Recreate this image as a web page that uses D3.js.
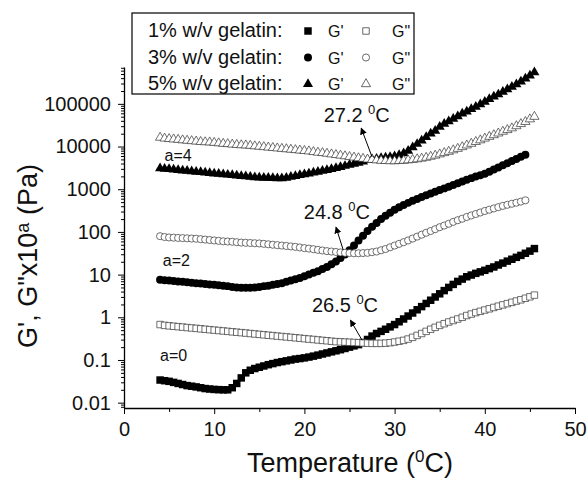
<!DOCTYPE html>
<html>
<head>
<meta charset="utf-8">
<script src="https://cdn.jsdelivr.net/npm/d3@7"></script>
<style>
body { margin: 0; background: #fff; }
svg { font-family: "Liberation Sans", Arial, sans-serif; }
</style>
</head>
<body>
<svg id="chart" width="588" height="480"></svg>
<script>
//
// Storage (G') and loss (G") moduli of gelatin gels vs temperature, shifted by 10^a.
//

// Temperature of each measurement, degC.
var temperature = [
    4, 4.5, 5, 5.5, 6, 6.5, 7, 7.5, 8, 8.5,
    9, 9.5, 10, 10.5, 11, 11.5, 12, 12.5, 13, 13.5,
    14, 14.5, 15, 15.5, 16, 16.5, 17, 17.5, 18, 18.5,
    19, 19.5, 20, 20.5, 21, 21.5, 22, 22.5, 23, 23.5,
    24, 24.5, 25, 25.5, 26, 26.5, 27, 27.5, 28, 28.5,
    29, 29.5, 30, 30.5, 31, 31.5, 32, 32.5, 33, 33.5,
    34, 34.5, 35, 35.5, 36, 36.5, 37, 37.5, 38, 38.5,
    39, 39.5, 40, 40.5, 41, 41.5, 42, 42.5, 43, 43.5,
    44, 44.5, 45, 45.5
];

// Values as plotted (G x 10^a, Pa). 1% gelatin, a=0.
var gel1Storage = [
    0.0339, 0.0327, 0.0316, 0.0299, 0.0282, 0.0266, 0.0251, 0.0243, 0.0234, 0.0224,
    0.0214, 0.0209, 0.0204, 0.0202, 0.0200, 0.0200, 0.0224, 0.0282, 0.038, 0.050,
    0.0575, 0.063, 0.0676, 0.0724, 0.0776, 0.0822, 0.0871, 0.0912, 0.0955, 0.100,
    0.105, 0.108, 0.112, 0.117, 0.123, 0.130, 0.138, 0.146, 0.155, 0.164,
    0.174, 0.186, 0.200, 0.214, 0.229, 0.257, 0.302, 0.363, 0.417, 0.468,
    0.525, 0.596, 0.676, 0.785, 0.912, 1.07, 1.26, 1.50, 1.78, 2.11,
    2.51, 2.99, 3.55, 4.22, 5.01, 5.89, 6.92, 7.85, 8.91, 9.77,
    10.7, 11.6, 12.6, 13.8, 15.1, 16.8, 18.6, 20.7, 22.9, 25.4,
    28.2, 31.6, 35.5, 40.7
];
var gel1Loss = [
    0.676, 0.646, 0.631, 0.617, 0.603, 0.589, 0.575, 0.562, 0.550, 0.537,
    0.525, 0.513, 0.501, 0.490, 0.479, 0.468, 0.457, 0.447, 0.437, 0.427,
    0.417, 0.407, 0.398, 0.389, 0.380, 0.372, 0.363, 0.355, 0.347, 0.339,
    0.331, 0.324, 0.316, 0.309, 0.302, 0.295, 0.288, 0.282, 0.275, 0.269,
    0.266, 0.263, 0.260, 0.257, 0.254, 0.251, 0.248, 0.245, 0.245, 0.245,
    0.248, 0.254, 0.263, 0.275, 0.288, 0.309, 0.339, 0.376, 0.417, 0.468,
    0.525, 0.582, 0.646, 0.708, 0.776, 0.841, 0.912, 1.00, 1.10, 1.19,
    1.29, 1.38, 1.48, 1.58, 1.70, 1.82, 1.95, 2.09, 2.24, 2.40,
    2.57, 2.79, 3.02, 3.31
];

// 3% gelatin, a=2 (ends at 44.5 degC).
var gel3Storage = [
    7.59, 7.41, 7.24, 7.08, 6.92, 6.76, 6.61, 6.46, 6.31, 6.17,
    6.03, 5.89, 5.75, 5.62, 5.50, 5.37, 5.13, 5.01, 4.90, 4.90,
    4.90, 5.01, 5.13, 5.37, 5.50, 5.75, 6.03, 6.31, 6.76, 7.24,
    7.76, 8.32, 9.12, 10.0, 11.0, 12.0, 13.5, 15.1, 17.4, 20.4,
    24.5, 29.5, 37.2, 47.9, 63.1, 81.3, 105, 132, 162, 200,
    240, 282, 331, 380, 427, 479, 537, 589, 661, 724,
    794, 871, 955, 1047, 1148, 1259, 1380, 1514, 1660, 1820,
    1995, 2138, 2291, 2570, 2884, 3236, 3631, 4074, 4571, 5129,
    5754, 6457
];
var gel3Loss = [
    79.4, 75.9, 74.1, 73.3, 72.4, 71.6, 70.8, 70.0, 69.2, 67.6,
    66.1, 64.6, 63.1, 61.7, 60.3, 59.6, 58.9, 57.5, 56.2, 55.6,
    55.0, 54.3, 53.7, 52.5, 51.3, 50.1, 49.0, 47.9, 46.8, 45.7,
    44.7, 43.2, 41.7, 40.7, 39.4, 38.0, 36.7, 35.5, 34.7, 33.9,
    33.1, 32.4, 32.0, 31.6, 31.6, 32.0, 32.4, 33.5, 34.7, 37.2,
    39.8, 43.7, 47.9, 52.5, 57.5, 63.1, 70.0, 77.6, 86.1, 95.5,
    105, 116, 129, 141, 155, 172, 188, 204, 224, 243,
    263, 285, 309, 331, 355, 380, 407, 432, 457, 484,
    513, 550
];

// 5% gelatin, a=4.
var gel5Storage = [
    3090, 3020, 2950, 2880, 2820, 2750, 2690, 2630, 2570, 2510,
    2450, 2400, 2340, 2290, 2240, 2190, 2140, 2090, 2040, 2000,
    1950, 1910, 1880, 1860, 1840, 1820, 1800, 1800, 1860, 1950,
    2040, 2140, 2240, 2340, 2450, 2570, 2690, 2820, 2950, 3130,
    3310, 3510, 3720, 3940, 4170, 4470, 4790, 5010, 5190, 5370,
    5500, 5690, 5890, 6310, 6920, 7940, 9550, 11500, 13800, 16600,
    20000, 23400, 28800, 33900, 38900, 44700, 51300, 58900, 66100, 75900,
    85100, 97700, 112000, 129000, 148000, 166000, 191000, 219000, 251000, 288000,
    331000, 389000, 457000, 550000
];
var gel5Loss = [
    16200, 15500, 15100, 14800, 14500, 14100, 13800, 13500, 13200, 12900,
    12700, 12600, 12300, 12000, 11700, 11500, 11200, 11000, 10800, 10700,
    10500, 10200, 10000, 9770, 9550, 9330, 9120, 8910, 8710, 8510,
    8320, 8130, 7940, 7760, 7500, 7240, 7080, 6840, 6610, 6380,
    6170, 5960, 5750, 5560, 5370, 5190, 5010, 4900, 4790, 4680,
    4620, 4570, 4570, 4620, 4680, 4790, 4900, 5070, 5250, 5500,
    5820, 6170, 6610, 7080, 7590, 8220, 8910, 9770, 10700, 11700,
    12900, 14100, 15500, 17000, 18600, 20400, 22400, 24500, 26900, 30200,
    33900, 38000, 43700, 50100
];

var xTicks = [0, 10, 20, 30, 40, 50];
var yTicks = [0.01, 0.1, 1, 10, 100, 1000, 10000, 100000];
var yTickLabels = ["0.01", "0.1", "1", "10", "100", "1000", "10000", "100000"];
var legendLabels = ["1% w/v gelatin:", "3% w/v gelatin:", "5% w/v gelatin:"];

// Gel point annotations: label, text anchor, arrow tail and head (data units).
var gelPoints = [
    { label: "27.2", tx: 25.8, ty: 55000, x1: 27.5, y1: 5700, x2: 26.3, y2: 27000 },
    { label: "24.8", tx: 23.6, ty: 290, x1: 24.3, y1: 38, x2: 23.5, y2: 130 },
    { label: "26.5", tx: 24.5, ty: 1.95, x1: 26.4, y1: 0.29, x2: 25.1, y2: 0.86 }
];
var shiftLabels = [
    { text: "a=4", t: 4.5, v: 6300 },
    { text: "a=2", t: 4.3, v: 22 },
    { text: "a=0", t: 4.0, v: 0.13 }
];

window.onload = function () {

    var svg = d3.select("#chart");

    var x = d3.scaleLinear().domain([0, 50]).range([124, 575]);
    var y = d3.scaleLog().domain([0.0075, 730000]).range([408, 67]);

    var symbolSize = { // Filled symbols drawn a little heavier than open ones.
        square: [56, 42], circle: [50, 40], triangle: [44, 37]
    };
    var symbolType = { square: d3.symbolSquare, circle: d3.symbolCircle, triangle: d3.symbolTriangle };

    function symbolPath (shape, filled) {
        return d3.symbol().type(symbolType[shape]).size(symbolSize[shape][filled ? 0 : 1])();
    };

    var series = [
        { values: gel1Storage, shape: "square", filled: true },
        { values: gel1Loss, shape: "square", filled: false },
        { values: gel3Storage, shape: "circle", filled: true },
        { values: gel3Loss, shape: "circle", filled: false },
        { values: gel5Storage, shape: "triangle", filled: true },
        { values: gel5Loss, shape: "triangle", filled: false }
    ];

    // Axes
    var minorY = [];
    for (var d = -3; d <= 5; d++) {
        for (var k = 2; k <= 9; k++) {
            var v = k * Math.pow(10, d);
            if (v >= y.domain()[0] && v <= y.domain()[1]) minorY.push(v);
        }
    }

    svg.append("g")
        .attr("transform", "translate(124,0)")
        .call(d3.axisLeft(y).tickValues(minorY).tickSize(3).tickFormat(""))
        .call(g => g.select(".domain").remove());

    svg.append("g")
        .attr("transform", "translate(124,0)")
        .call(d3.axisLeft(y).tickValues(yTicks).tickSize(6).tickSizeOuter(0).tickPadding(7)
            .tickFormat((dv, i) => yTickLabels[i]));

    svg.append("g")
        .attr("transform", "translate(0,408)")
        .call(d3.axisBottom(x).tickValues([5, 15, 25, 35, 45]).tickSize(4).tickFormat(""))
        .call(g => g.select(".domain").remove());

    svg.append("g")
        .attr("transform", "translate(0,408)")
        .call(d3.axisBottom(x).tickValues(xTicks).tickSize(6).tickSizeOuter(0).tickPadding(8));

    svg.selectAll(".domain").attr("stroke-width", 1.3);
    svg.selectAll(".tick line").attr("stroke-width", 1);
    svg.selectAll(".tick text").attr("font-size", 20).attr("font-family", "Liberation Sans, Arial, sans-serif").attr("fill", "#111");

    // Axis titles
    var xTitle = svg.append("text")
        .attr("x", 350).attr("y", 472)
        .attr("text-anchor", "middle")
        .attr("font-size", 27).attr("fill", "#111");
    xTitle.append("tspan").text("Temperature (");
    xTitle.append("tspan").attr("font-size", 17).attr("dy", -10).text("0");
    xTitle.append("tspan").attr("dy", 10).text("C)");

    var yTitle = svg.append("text")
        .attr("transform", "translate(37,256) rotate(-90)")
        .attr("text-anchor", "middle")
        .attr("font-size", 27).attr("fill", "#111");
    yTitle.append("tspan").text("G', G\"x10");
    yTitle.append("tspan").attr("font-size", 18).attr("dy", -8).text("a");
    yTitle.append("tspan").attr("dy", 8).text(" (Pa)");

    // Data symbols
    series.forEach(function (s) {
        var pts = s.values.map((v, i) => ({ t: temperature[i], v: v }));
        svg.append("g")
            .selectAll("path")
            .data(pts)
            .enter()
            .append("path")
            .attr("d", symbolPath(s.shape, s.filled))
            .attr("transform", p => "translate(" + x(p.t) + "," + y(p.v) + ")")
            .attr("fill", s.filled ? "#000" : "#fff")
            .attr("stroke", s.filled ? "none" : "#333")
            .attr("stroke-width", 0.7);
    });

    // Gel point arrows and labels
    svg.append("defs").append("marker")
        .attr("id", "head")
        .attr("viewBox", "0 0 10 10")
        .attr("refX", 9).attr("refY", 5)
        .attr("markerWidth", 7).attr("markerHeight", 7)
        .attr("markerUnits", "userSpaceOnUse")
        .attr("orient", "auto")
        .append("path").attr("d", "M0,0 L10,5 L0,10 z").attr("fill", "#000");

    gelPoints.forEach(function (g) {
        svg.append("line")
            .attr("x1", x(g.x1)).attr("y1", y(g.y1))
            .attr("x2", x(g.x2)).attr("y2", y(g.y2))
            .attr("stroke", "#000").attr("stroke-width", 1)
            .attr("marker-end", "url(#head)");
        var t = svg.append("text")
            .attr("x", x(g.tx)).attr("y", y(g.ty) + 7)
            .attr("text-anchor", "middle")
            .attr("font-size", 20).attr("fill", "#111");
        t.append("tspan").text(g.label + " ");
        t.append("tspan").attr("font-size", 13).attr("dy", -8).text("0");
        t.append("tspan").attr("dy", 8).text("C");
    });

    shiftLabels.forEach(function (a) {
        svg.append("text")
            .attr("x", x(a.t)).attr("y", y(a.v) + 6)
            .attr("font-size", 16).attr("fill", "#111")
            .text(a.text);
    });

    // Legend
    var legend = svg.append("g");
    legend.append("rect")
        .attr("x", 132).attr("y", 13).attr("width", 282).attr("height", 81)
        .attr("fill", "#fff").attr("stroke", "#000").attr("stroke-width", 1.2);

    legendLabels.forEach(function (label, i) {
        var base = 37 + i * 26.5;
        var filled = series[i * 2], open = series[i * 2 + 1];
        legend.append("text").attr("x", 148).attr("y", base)
            .attr("font-size", 20).attr("fill", "#111").text(label);
        legend.append("path").attr("d", symbolPath(filled.shape, true))
            .attr("transform", "translate(308," + (base - 6) + ")")
            .attr("fill", "#000");
        legend.append("text").attr("x", 328).attr("y", base)
            .attr("font-size", 16).attr("fill", "#111").text("G'");
        legend.append("path").attr("d", symbolPath(open.shape, false))
            .attr("transform", "translate(366," + (base - 6) + ")")
            .attr("fill", "#fff").attr("stroke", "#444").attr("stroke-width", 0.8);
        legend.append("text").attr("x", 392).attr("y", base)
            .attr("font-size", 16).attr("fill", "#111").text("G\"");
    });
};
</script>
</body>
</html>
